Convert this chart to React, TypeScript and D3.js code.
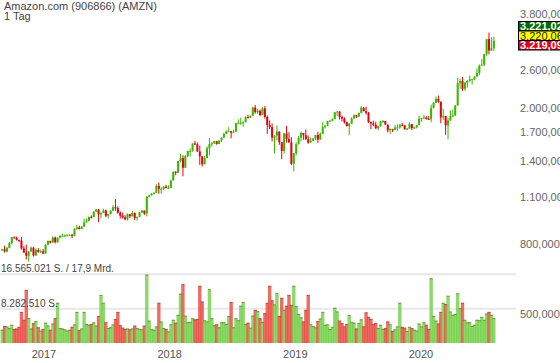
import React from "react";
import * as d3 from "d3";

const W = 560;
const H = 363;

const titleText = "Amazon.com (906866) (AMZN)";
const periodText = "1 Tag";

// weekly data, first week starting Monday 2016-08-29
const firstWeek = new Date(2016, 7, 29);
const firstOpen = 769;

const closes = [
  772, 760, 778, 805, 837, 834, 823, 819, 776, 755,
  739, 760, 780, 740, 768, 758, 761, 750, 796, 817,
  808, 836, 810, 835, 845, 845, 849, 852, 852, 846,
  887, 895, 885, 899, 925, 934, 961, 960, 996, 1011,
  978, 988, 1004, 968, 979, 1002, 1026, 1020, 988, 968,
  958, 945, 978, 966, 987, 955, 961, 990, 1003, 983,
  1101, 1112, 1125, 1130, 1186, 1162, 1162, 1179, 1168, 1169,
  1229, 1305, 1295, 1402, 1430, 1340, 1449, 1500, 1500, 1579,
  1572, 1496, 1447, 1372, 1431, 1528, 1573, 1581, 1603, 1574,
  1610, 1642, 1684, 1716, 1716, 1700, 1711, 1813, 1814, 1817,
  1823, 1886, 1882, 1905, 2013, 1952, 1970, 1915, 2003, 1890,
  1789, 1764, 1643, 1666, 1712, 1593, 1502, 1690, 1629, 1592,
  1377, 1478, 1575, 1641, 1696, 1671, 1626, 1588, 1608, 1632,
  1672, 1621, 1686, 1765, 1781, 1837, 1843, 1862, 1951, 1962,
  1890, 1869, 1823, 1775, 1804, 1870, 1911, 1894, 1943, 2011,
  1965, 1943, 1823, 1808, 1793, 1750, 1776, 1834, 1839, 1794,
  1725, 1740, 1732, 1758, 1761, 1791, 1786, 1739, 1746, 1801,
  1752, 1761, 1787, 1870, 1875, 1883, 1865, 1862, 2009, 2079,
  2135, 2096, 1884, 1901, 1785, 1846, 1900, 1907, 2043, 2375,
  2410, 2286, 2380, 2410, 2437, 2442, 2483, 2545, 2675, 2693,
  2890, 3200, 2962, 3009, 3165,
];

const highs = [
  775, 790, 785, 811, 838, 843, 841, 822, 838, 790,
  796, 763, 786, 785, 775, 778, 770, 774, 799, 819,
  817, 843, 841, 836, 849, 858, 853, 853, 853, 856,
  890, 911, 906, 905, 949, 950, 963, 971, 999, 1013,
  1013, 990, 1016, 1010, 979, 1006, 1040, 1084, 1033, 998,
  990, 972, 984, 981, 1000, 989, 963, 994, 1007, 1000,
  1106, 1114, 1130, 1138, 1198, 1213, 1175, 1182, 1194, 1190,
  1237, 1305, 1307, 1403, 1473, 1459, 1460, 1503, 1528, 1579,
  1606, 1590, 1556, 1448, 1453, 1549, 1638, 1596, 1608, 1608,
  1614, 1643, 1699, 1725, 1763, 1719, 1733, 1814, 1858, 1880,
  1835, 1898, 1917, 1906, 2025, 2050, 1999, 1987, 2020, 2033,
  1909, 1845, 1808, 1670, 1784, 1678, 1584, 1695, 1779, 1704,
  1648, 1480, 1590, 1662, 1714, 1680, 1737, 1666, 1645, 1640,
  1675, 1709, 1702, 1823, 1786, 1838, 1850, 1873, 1956, 1965,
  1960, 1910, 1885, 1833, 1815, 1885, 1922, 1918, 1945, 2035,
  2022, 2026, 1956, 1832, 1843, 1830, 1783, 1841, 1853, 1834,
  1795, 1750, 1742, 1791, 1798, 1801, 1815, 1789, 1755, 1824,
  1800, 1769, 1792, 1901, 1878, 1917, 1898, 1902, 2055, 2089,
  2170, 2185, 2070, 1998, 1890, 1880, 1974, 1990, 2045, 2461,
  2444, 2475, 2393, 2425, 2500, 2442, 2489, 2623, 2695, 2796,
  2896, 3200, 3344, 3240, 3250,
];

const lows = [
  763, 755, 756, 777, 797, 830, 819, 810, 770, 753,
  720, 710, 762, 735, 743, 754, 753, 748, 757, 792,
  803, 808, 803, 806, 830, 843, 838, 841, 845, 833,
  842, 880, 883, 885, 905, 926, 935, 950, 962, 992,
  927, 950, 990, 959, 951, 980, 1000, 1001, 983, 950,
  950, 940, 938, 954, 962, 941, 937, 962, 988, 973,
  965, 1096, 1110, 1118, 1130, 1124, 1124, 1152, 1166, 1167,
  1170, 1233, 1273, 1301, 1390, 1265, 1339, 1440, 1446, 1495,
  1563, 1491, 1366, 1352, 1386, 1440, 1456, 1546, 1575, 1566,
  1576, 1595, 1646, 1684, 1710, 1635, 1690, 1726, 1805, 1792,
  1767, 1835, 1874, 1876, 1913, 1932, 1928, 1899, 1916, 1868,
  1685, 1740, 1600, 1476, 1612, 1565, 1420, 1476, 1588, 1586,
  1364, 1307, 1457, 1566, 1602, 1620, 1618, 1577, 1595, 1608,
  1618, 1586, 1620, 1687, 1748, 1777, 1827, 1835, 1862, 1900,
  1857, 1833, 1807, 1773, 1672, 1815, 1868, 1877, 1900, 1934,
  1963, 1919, 1817, 1740, 1776, 1743, 1728, 1770, 1813, 1791,
  1703, 1685, 1707, 1725, 1716, 1744, 1774, 1735, 1727, 1742,
  1730, 1740, 1750, 1787, 1832, 1860, 1856, 1852, 1822, 2002,
  2078, 2079, 1811, 1853, 1675, 1626, 1840, 1890, 1935, 2040,
  2285, 2256, 2256, 2305, 2400, 2354, 2422, 2473, 2504, 2670,
  2662, 2860, 2884, 2980, 2951,
];

// weekly peak daily volume, millions of shares
const volumes = [
  3.2, 4.1, 4.0, 3.6, 4.4, 3.4, 3.5, 3.9, 7.5, 5.6,
  12.8, 6.0, 3.5, 4.8, 5.3, 3.8, 3.0, 3.4, 4.9, 4.2,
  3.2, 4.7, 6.0, 9.7, 3.6, 3.5, 3.3, 3.0, 3.2, 3.9,
  4.5, 7.5, 3.1, 3.5, 7.5, 4.6, 4.4, 4.6, 5.0, 4.2,
  6.5, 11.6, 9.7, 5.0, 3.6, 3.8, 4.5, 5.8, 7.5, 4.3,
  3.7, 3.4, 3.5, 3.3, 3.5, 4.2, 3.6, 3.4, 3.3, 4.2,
  16.5, 5.4, 3.3, 3.2, 4.0, 9.7, 5.2, 3.6, 3.4, 2.8,
  4.5, 5.6, 4.9, 6.8, 11.9, 14.2, 6.6, 5.0, 5.1, 6.0,
  5.7, 5.8, 13.8, 10.0, 5.5, 5.2, 13.0, 6.0, 4.3, 4.5,
  3.8, 5.0, 5.0, 4.6, 6.5, 9.9, 3.8, 6.0, 5.5, 9.0,
  9.9, 4.6, 4.9, 3.7, 6.6, 8.0, 7.7, 6.0, 5.1, 7.2,
  9.7, 13.8, 10.3, 9.3, 12.0, 6.5, 10.9, 8.0, 9.0, 11.6,
  9.2, 13.8, 8.9, 7.0, 6.2, 5.2, 8.0, 11.6, 4.5, 4.1,
  3.8, 5.3, 5.9, 7.5, 4.4, 4.5, 3.4, 3.9, 8.5, 7.6,
  5.4, 4.8, 4.0, 4.6, 6.7, 5.1, 4.9, 3.5, 4.8, 5.7,
  4.0, 7.4, 6.3, 5.8, 4.6, 4.8, 3.6, 4.4, 3.4, 3.6,
  5.2, 4.5, 2.9, 3.3, 4.0, 9.7, 3.9, 3.7, 2.9, 3.9,
  3.6, 3.2, 3.0, 4.7, 4.0, 5.0, 4.4, 3.4, 15.6, 6.5,
  5.4, 4.7, 7.5, 9.7, 9.4, 11.4, 7.6, 6.8, 7.0, 12.0,
  8.4, 9.7, 5.6, 5.0, 5.0, 4.1, 4.4, 5.6, 5.5, 6.3,
  5.6, 7.1, 7.5, 6.8, 6.0,
];

const priceTicks = [800, 1100, 1400, 1700, 2000, 2600, 3800];
const quoteValues = [3221.02, 3220.06, 3219.09];
const quoteColors = ["#006a00", "#ffff00", "#e2001a"];
const quoteText = ["#ffffff", "#222222", "#ffffff"];

const volMax = 16.565021;
const volMaxLabel = "16.565.021 S. / 17,9 Mrd.";
const volMid = 8.28251;
const volMidLabel = "8.282.510 S.";
const volAxisLabel = "500,000";

const de = d3.formatLocale({
  decimal: ",",
  thousands: ".",
  grouping: [3],
  currency: ["", "€"],
});
const fmtAxis = de.format(",.3f");
const fmtQuote = de.format(",.2f");

const FONT = "'Liberation Sans', Arial, Helvetica, sans-serif";

export default function App() {
  const x = d3
    .scaleTime()
    .domain([new Date(2017, 0, 1), new Date(2020, 0, 1)])
    .range([44, 421]);
  const y = d3.scaleLog().domain([800, 3800]).range([244, 13.7]);
  const yv = d3.scaleLinear().domain([0, volMax]).range([343, 274.3]);

  const weeks = closes.map((c, i) => {
    const d0 = d3.timeMonday.offset(firstWeek, i);
    const d1 = d3.timeMonday.offset(firstWeek, i + 1);
    const open = i === 0 ? firstOpen : closes[i - 1];
    const hi = Math.max(highs[i], open, c);
    const lo = Math.min(lows[i], open, c);
    return { x0: x(d0), x1: x(d1), open, close: c, hi, lo, vol: volumes[i], up: c >= open };
  });

  const years = d3.timeYear.range(new Date(2017, 0, 1), new Date(2020, 1, 1));

  const green = "#3cb500";
  const red = "#e3000f";
  const vGreen = "#70d046";
  const vRed = "#e8493f";

  return (
    <svg
      width={W}
      height={H}
      style={{ position: "absolute", left: 0, top: 0, background: "#fff" }}
      fontFamily={FONT}
    >
      {/* volume grid */}
      <line x1={0} x2={516} y1={yv(volMax)} y2={yv(volMax)} stroke="#e8e8e8" strokeWidth={2} />
      <line x1={0} x2={516} y1={yv(volMid)} y2={yv(volMid)} stroke="#e8e8e8" strokeWidth={2} />

      {/* volume bars */}
      <g>
        {weeks.map((w, i) => (
          <rect
            key={"v" + i}
            x={w.x0 - 0.5}
            width={w.x1 - w.x0 + 1}
            y={yv(w.vol)}
            height={yv(0) - yv(w.vol)}
            fill={w.up ? vGreen : vRed}
            fillOpacity={0.8}
          />
        ))}
        {weeks.map((w, i) => (
          <rect
            key={"vt" + i}
            x={w.x0 - 0.3}
            width={w.x1 - w.x0 + 0.6}
            y={yv(w.vol)}
            height={1}
            fill="#6b3a1a"
            fillOpacity={0.45}
          />
        ))}
      </g>

      {/* candles */}
      <g>
        {weeks.map((w, i) => {
          const cx = (w.x0 + w.x1) / 2;
          const yt = y(Math.max(w.open, w.close));
          const yb = y(Math.min(w.open, w.close));
          const col = w.up ? green : red;
          return (
            <g key={"c" + i}>
              <line x1={cx} x2={cx} y1={y(w.hi)} y2={y(w.lo)} stroke={col} strokeWidth={1} />
              <rect x={w.x0 + 0.2} width={w.x1 - w.x0 - 0.4} y={yt} height={Math.max(1, yb - yt)} fill={col} />
            </g>
          );
        })}
      </g>

      {/* titles */}
      <text x={4} y={10} fontSize={11} fill="#444">{titleText}</text>
      <text x={4} y={19.5} fontSize={11} fill="#444">{periodText}</text>

      {/* volume labels */}
      <text x={1} y={271.5} fontSize={10} fill="#444">{volMaxLabel}</text>
      <text x={1} y={306.5} fontSize={10} fill="#444">{volMidLabel}</text>
      <text x={520} y={314} dy="0.35em" fontSize={11} fill="#666">{volAxisLabel}</text>

      {/* price axis */}
      {priceTicks.map((t) => (
        <text key={"t" + t} x={520} y={y(t)} dy="0.35em" fontSize={11} fill="#666">
          {fmtAxis(t)}
        </text>
      ))}

      {/* quote boxes */}
      {quoteValues.map((q, i) => {
        const top = 21.5 + i * 9.5;
        return (
          <g key={"q" + i}>
            <rect x={518.5} y={top} width={45} height={9.5} fill={quoteColors[i]} stroke="#000" strokeWidth={1} />
            <text
              x={520}
              y={top + 4.75}
              dy="0.36em"
              fontSize={11}
              fontWeight={i === 1 ? "normal" : "bold"}
              fill={quoteText[i]}
            >
              {fmtQuote(q)}
            </text>
          </g>
        );
      })}

      {/* x axis labels */}
      {years.map((d, i) => (
        <text key={"y" + i} x={x(d)} y={358} textAnchor="middle" fontSize={11} fill="#555">
          {d3.timeFormat("%Y")(d)}
        </text>
      ))}
    </svg>
  );
}
